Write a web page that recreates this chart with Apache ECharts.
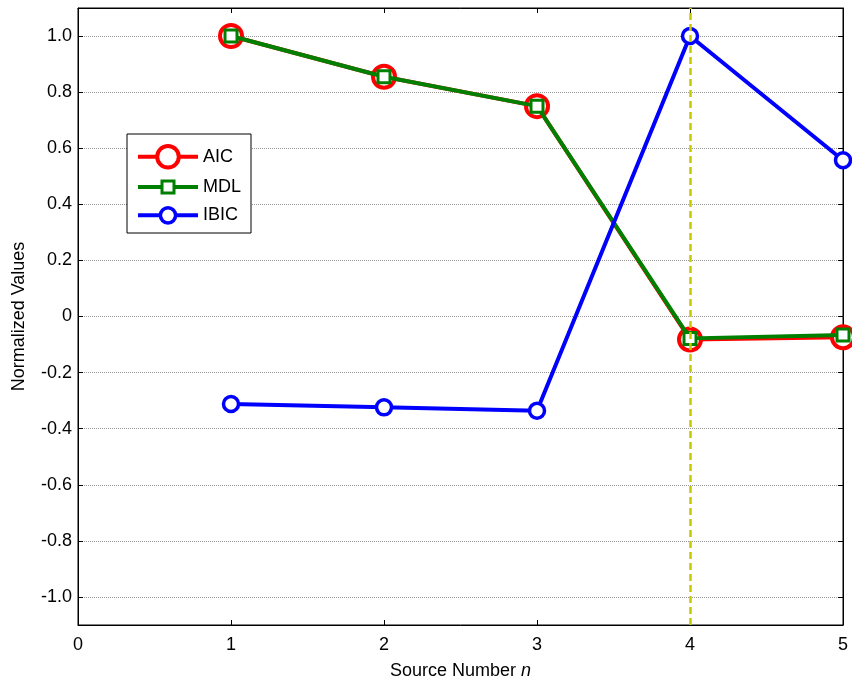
<!DOCTYPE html>
<html>
<head>
<meta charset="utf-8">
<script src="https://cdn.jsdelivr.net/npm/echarts@6/dist/echarts.min.js"></script>
<style>
  html, body { margin: 0; padding: 0; background: #fff; }
  #chart { width: 852px; height: 681px; }
</style>
</head>
<body>
<div id="chart"></div>
<script>
// Source numbers on the x axis
const sourceNumbers = [1, 2, 3, 4, 5];
// Normalized criterion values per source number
const aicValues = [1.0, 0.855, 0.75, -0.082, -0.074];
const mdlValues = [1.0, 0.855, 0.75, -0.078, -0.066];
const ibicValues = [-0.312, -0.324, -0.336, 1.0, 0.557];
// Estimated source number (vertical marker)
const estimatedSource = 4;
// Tick labels
const xTicks = [0, 1, 2, 3, 4, 5];
const yTicks = [-1.0, -0.8, -0.6, -0.4, -0.2, 0, 0.2, 0.4, 0.6, 0.8, 1.0];

const FONT = 'Liberation Sans, Arial, sans-serif';
const FS = 18;

function pairs(values) {
  return values.map((v, i) => [sourceNumbers[i], v]);
}

function fmtY(v) {
  if (Math.abs(v) < 1e-9) return '0';
  return v.toFixed(1);
}

const chart = echarts.init(document.getElementById('chart'), null, { renderer: 'canvas' });

function legendFor(name, color, itemHeight, top, borderWidth) {
  return {
    orient: 'vertical',
    left: 131,
    top: top,
    itemWidth: 60,
    itemHeight: itemHeight,
    data: [name],
    selectedMode: false,
    textStyle: { fontFamily: FONT, fontSize: FS, color: '#000' },
    itemStyle: { color: '#fff', borderColor: color, borderWidth: borderWidth },
    lineStyle: { color: color, width: 4 }
  };
}

chart.setOption({
  animation: false,
  backgroundColor: '#fff',
  grid: {
    left: 78, right: 9, top: 8, bottom: 56,
    outerBoundsMode: 'none',
    containLabel: false,
    show: true, borderColor: '#000', borderWidth: 1, backgroundColor: 'transparent'
  },
  legend: [
    legendFor('AIC', '#ff0000', 27, 139, 4),
    legendFor('MDL', '#008000', 15, 173, 3),
    legendFor('IBIC', '#0000ff', 19, 201, 3.5)
  ],
  graphic: [{
    type: 'rect',
    z: 3,
    shape: { x: 127, y: 134, width: 124, height: 99 },
    style: { fill: '#fff', stroke: '#000', lineWidth: 1 }
  }],
  xAxis: [{
    type: 'value',
    min: xTicks[0], max: xTicks[xTicks.length - 1], interval: 1,
    name: 'Source Number {i|n}',
    nameLocation: 'middle',
    nameGap: 37,
    nameTextStyle: {
      fontFamily: FONT, fontSize: FS, color: '#000',
      rich: { i: { fontFamily: FONT, fontSize: FS, fontStyle: 'italic', color: '#000' } }
    },
    axisLine: { show: true, onZero: false, lineStyle: { color: '#000', width: 1 } },
    axisTick: { show: true, inside: true, length: 5, lineStyle: { color: '#000' } },
    axisLabel: { fontFamily: FONT, fontSize: FS, color: '#000', margin: 11 },
    splitLine: { show: false }
  }, {
    type: 'value',
    position: 'top',
    min: xTicks[0], max: xTicks[xTicks.length - 1], interval: 1,
    axisLine: { show: true, onZero: false, lineStyle: { color: '#000', width: 1 } },
    axisTick: { show: true, inside: true, length: 5, lineStyle: { color: '#000' } },
    axisLabel: { show: false },
    splitLine: { show: false }
  }],
  yAxis: [{
    type: 'value',
    min: -1.1, max: 1.1,
    name: 'Normalized Values',
    nameLocation: 'middle',
    nameGap: 50,
    nameTextStyle: { fontFamily: FONT, fontSize: FS, color: '#000' },
    axisLine: { show: true, onZero: false, lineStyle: { color: '#000', width: 1 } },
    axisTick: { show: true, inside: true, length: 5, customValues: yTicks, lineStyle: { color: '#000' } },
    axisLabel: {
      fontFamily: FONT, fontSize: FS, color: '#000', margin: 6,
      customValues: yTicks, formatter: fmtY
    },
    splitLine: { show: true, lineStyle: { color: '#999', type: [1, 1], width: 1 } }
  }, {
    type: 'value',
    position: 'right',
    min: -1.1, max: 1.1,
    axisLine: { show: true, onZero: false, lineStyle: { color: '#000', width: 1 } },
    axisTick: { show: true, inside: true, length: 5, customValues: yTicks, lineStyle: { color: '#000' } },
    axisLabel: { show: false },
    splitLine: { show: false }
  }],
  series: [{
    name: 'AIC',
    type: 'line',
    data: pairs(aicValues),
    symbol: 'circle',
    symbolSize: 22,
    lineStyle: { color: '#ff0000', width: 4 },
    itemStyle: { color: '#fff', borderColor: '#ff0000', borderWidth: 4 },
    z: 2
  }, {
    name: 'MDL',
    type: 'line',
    data: pairs(mdlValues),
    symbol: 'rect',
    symbolSize: 12,
    lineStyle: { color: '#008000', width: 4 },
    itemStyle: { color: '#fff', borderColor: '#008000', borderWidth: 3 },
    z: 3
  }, {
    name: 'IBIC',
    type: 'line',
    data: pairs(ibicValues),
    symbol: 'circle',
    symbolSize: 15,
    lineStyle: { color: '#0000ff', width: 4 },
    itemStyle: { color: '#fff', borderColor: '#0000ff', borderWidth: 3.5 },
    z: 4,
    markLine: {
      silent: true,
      symbol: 'none',
      label: { show: false },
      lineStyle: { color: '#c8c800', type: [7, 4], width: 2.5 },
      data: [{ xAxis: estimatedSource }],
      z: 5
    }
  }]
});
</script>
</body>
</html>
